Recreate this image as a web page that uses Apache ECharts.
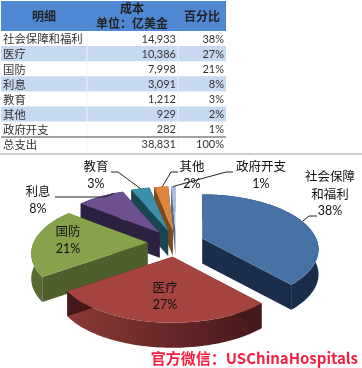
<!DOCTYPE html>
<html><head><meta charset="utf-8">
<style>html,body{margin:0;padding:0;background:#fff}#c{width:362px;height:368px}</style>
<script src="https://cdn.jsdelivr.net/npm/echarts@6/dist/echarts.min.js"></script>
</head><body><div id="c"></div>
<script>
// ---- data ----
var categories = ['社会保障和福利','医疗','国防','利息','教育','其他','政府开支'];
var costs = [14933,10386,7998,3091,1212,929,282];
var percents = ['38%','27%','21%','8%','3%','2%','1%'];
var totalLabel = '总支出', totalCost = 38831, totalPercent = '100%';
var headers = ['明细','成本','单位：亿美金','百分比'];
var watermark = '官方微信：USChinaHospitals';

// ---- styles / layout (not data) ----
var CJK = '"Noto Sans CJK SC","Noto Sans",sans-serif';
var NUM = 'Lato,"Noto Sans",sans-serif';
var topColors  = ['#4672a6','#a64442','#86a24b','#6d5090','#3e8fa8','#db853d','#a6badd'];
var wallDark   = ['#1a2e4c','#45181a','#4e5f2c','#2d2142','#1a4654','#7d4a20','#5a6a85'];
var wallLight  = ['#1a2e4c','#8c3a38','#5a6c32','#2d2142','#1a4654','#7d4a20','#5a6a85'];
var labelLayout = [
 {lines:['社会保障','和福利','38%'],x:330,y:[176,194,211],lead:[[317,216],[309,216]],frac:.5},
 {lines:['医疗','27%'],x:165,y:[287,305]},
 {lines:['国防','21%'],x:68,y:[231,249]},
 {lines:['利息','8%'],x:38,y:[191,209],lead:[[55,197],[105,197]],frac:.8},
 {lines:['教育','3%'],x:96,y:[166,184],lead:[[111,172],[118,172]],frac:.5},
 {lines:['其他','2%'],x:192,y:[166,184],lead:[[178,172],[171,172]],frac:.5},
 {lines:['政府开支','1%'],x:261,y:[166,184],lead:[[233,172],[226,172]],frac:.5}
];
var CX=176, CY=243, R=114, H=52.8, K=0.2, EXPLODE=0.25, DEPTH=25;

function proj(u,v){var d=1-K*v;return [R*u/d,H*v/d];}
function dirOf(a){return [Math.sin(a),-Math.cos(a)];}

var total = costs.reduce(function(a,b){return a+b;},0);
var acc=0;
var slices = costs.map(function(v,i){
  var a0=acc/total*2*Math.PI; acc+=v; var a1=acc/total*2*Math.PI;
  return {i:i,a0:a0,a1:a1,mid:(a0+a1)/2};
});
function sliceGeom(s){
  var d=dirOf(s.mid), off=proj(d[0]*EXPLODE,d[1]*EXPLODE);
  var ax=CX+off[0], ay=CY+off[1], arc=[], n=Math.max(6,Math.ceil((s.a1-s.a0)*40));
  for(var k=0;k<=n;k++){
    var a=s.a0+(s.a1-s.a0)*k/n, q=dirOf(a), p=proj(q[0],q[1]);
    arc.push([ax+p[0],ay+p[1]]);
  }
  return {ax:ax,ay:ay,arc:arc};
}
function down(p){return [p[0],p[1]+DEPTH];}

// back-to-front drawing order
var order = slices.slice().sort(function(a,b){return -Math.cos(a.mid)-(-Math.cos(b.mid));});

function renderSlice(params,api){
  var s=slices[api.value(0)], g=sliceGeom(s), i=s.i, ch=[];
  var apex=[g.ax,g.ay], first=g.arc[0], last=g.arc[g.arc.length-1];
  var wall=g.arc.concat(g.arc.slice().reverse().map(down));
  ch.push({type:'polygon',shape:{points:wall},style:{
    fill:new echarts.graphic.LinearGradient(0,0,1,0,[{offset:0,color:wallLight[i]},{offset:1,color:wallDark[i]}])}});
  [first,last].forEach(function(p){
    ch.push({type:'polygon',shape:{points:[apex,p,down(p),down(apex)]},style:{fill:wallDark[i]}});
  });
  ch.push({type:'polygon',shape:{points:[apex].concat(g.arc)},style:{fill:topColors[i]}});
  return {type:'group',children:ch};
}

// table
var g=[], headerH=31, rowH=15.1;
g.push({type:'rect',shape:{x:1,y:1,width:225,height:headerH-1},style:{fill:'#4f88d2'}});
var rows=categories.map(function(c,i){return [c,costs[i].toLocaleString('en-US'),percents[i]];});
rows.push([totalLabel,totalCost.toLocaleString('en-US'),totalPercent]);
rows.forEach(function(r,i){
  var y=headerH+i*rowH;
  if(i%2===1&&i<7) g.push({type:'rect',shape:{x:1,y:y,width:225,height:rowH},style:{fill:'#c6d9f1'}});
  g.push({type:'text',style:{x:3,y:y+rowH/2+.5,text:r[0],font:'11.4px '+CJK,fill:'#333',textVerticalAlign:'middle',textAlign:'left'}});
  g.push({type:'text',style:{x:176,y:y+rowH/2+.5,text:r[1],font:'11px '+NUM,fill:'#333',textVerticalAlign:'middle',textAlign:'right'}});
  g.push({type:'text',style:{x:224,y:y+rowH/2+.5,text:r[2],font:'11px '+NUM,fill:'#333',textVerticalAlign:'middle',textAlign:'right'}});
});
[87,178].forEach(function(x){g.push({type:'line',shape:{x1:x,y1:headerH,x2:x,y2:152},style:{stroke:'#eef2f8',lineWidth:1}});});
g.push({type:'line',shape:{x1:1,y1:137,x2:226,y2:137},style:{stroke:'#444',lineWidth:1}});
g.push({type:'line',shape:{x1:0,y1:154,x2:362,y2:154},style:{stroke:'#9a9a9a',lineWidth:1}});
[[44,16,0],[132,8,1],[132,23,2],[202,16,3]].forEach(function(h){
  g.push({type:'text',style:{x:h[0],y:h[1],text:headers[h[2]],font:'bold 12px '+CJK,fill:'#222',textAlign:'center',textVerticalAlign:'middle'}});
});
// labels and leaders
labelLayout.forEach(function(l,i){
  l.lines.forEach(function(t,k){
    var isPct=k===l.lines.length-1;
    g.push({type:'text',z:10,style:{x:l.x,y:l.y[k],text:t,font:(isPct?'12.5px '+NUM:'12.5px '+CJK),fill:'#111',textAlign:'center',textVerticalAlign:'middle'}});
  });
  if(l.lead){
    var sg=sliceGeom(slices[i]), p=sg.arc[Math.round((sg.arc.length-1)*l.frac)];
    g.push({type:'polyline',z:10,shape:{points:l.lead.concat([p])},style:{stroke:'#222',lineWidth:1,fill:null}});
  }
});
g.push({type:'text',z:10,style:{x:358,y:358,text:watermark,font:'bold 15px '+CJK,fill:'#f5203f',textAlign:'right',textVerticalAlign:'middle'}});

var chart=echarts.init(document.getElementById('c'),null,{renderer:'canvas'});
chart.setOption({
  animation:false,
  backgroundColor:'#fff',
  graphic:{elements:g},
  xAxis:{show:false,min:0,max:1},yAxis:{show:false,min:0,max:1},
  grid:{left:0,right:0,top:0,bottom:0},
  series:[{type:'custom',coordinateSystem:'none',renderItem:renderSlice,
    data:order.map(function(s){return [s.i,costs[s.i]];}),silent:true,clip:false}]
});
</script></body></html>
